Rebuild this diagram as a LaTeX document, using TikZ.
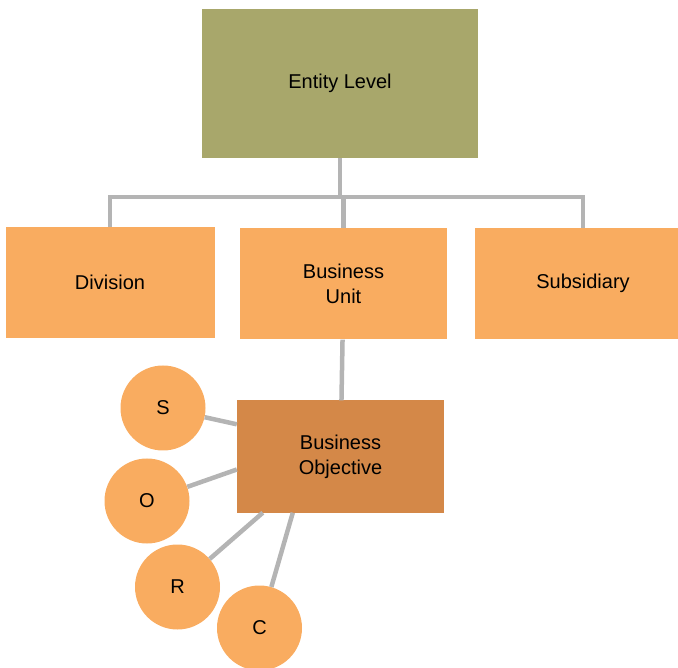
\documentclass[tikz,border=0pt]{standalone}
\usepackage{fontspec}
\setmainfont{Liberation Sans}
\usepackage{tikz}
\usetikzlibrary{positioning}

\definecolor{olivebox}{HTML}{A8A76B}
\definecolor{lightorange}{HTML}{F9AC60}
\definecolor{darkorange}{HTML}{D48848}
\definecolor{linkgray}{HTML}{B4B4B4}

\tikzset{
  unitbox/.style={fill=lightorange, minimum width=209pt, minimum height=111pt,
    align=center, font=\fontsize{20}{25}\selectfont},
  letter/.style={circle, fill=lightorange, minimum size=85pt, inner sep=0pt,
    font=\fontsize{20}{24}\selectfont},
  link/.style={draw=linkgray, line width=4.5pt}
}

\begin{document}
\begin{tikzpicture}[x=1pt,y=-1pt]
            \useasboundingbox (0,0) rectangle (678,668);
            % top level
            \node[unitbox, fill=olivebox, minimum width=276pt, minimum height=149pt] (entity) at (340,83.5) {Entity Level};
            \coordinate (fork) at (340,197);
            % second row
            \node[unitbox] (division) at (110,282.5) {Division};
            \node[unitbox, minimum width=207pt] (unit) at (343.5,284) {Business\\Unit};
            \node[unitbox, minimum width=216pt] (subsid) at (583,283.5) {Subsidiary};
            % objective and its circles
            \node[unitbox, fill=darkorange, minimum width=207pt, minimum height=112pt] (objective) at (340.5,456.5) {Business\\Objective};
            \node[letter] (s) at (163,408) {S};
            \node[letter] (o) at (147,501) {O};
            \node[letter] (r) at (177.5,587) {R};
            \node[letter] (c) at (259.5,628) {C};

            \draw[link] (entity) -- (fork);
            \foreach \n in {division,unit,subsid}
                \draw[link] (fork) -| (\n);
            \draw[link] (unit) -- (objective);
            \draw[link] ([yshift=-24pt]objective.north west) -- (s);
            \draw[link] ([yshift=-13pt]objective.west) -- (o);
            \draw[link] ([xshift=26pt]objective.south west) -- (r);
            \draw[link] ([xshift=56pt]objective.south west) -- (c);
        \end{tikzpicture}
\end{document}
